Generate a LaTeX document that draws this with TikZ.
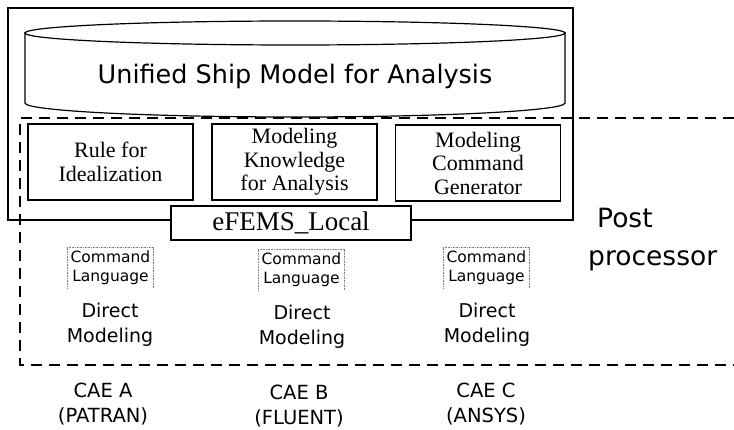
\documentclass[tikz,border=0pt]{standalone}
\usepackage{fontspec}
\setmainfont{Liberation Serif}
\setsansfont{DejaVu Sans}
\begin{document}
\begin{tikzpicture}[x=1pt,y=-1pt,
  modbox/.style={draw,line width=1.3pt,minimum width=165pt,minimum height=76pt,align=center,inner sep=0pt,font=\fontsize{22}{23.5}\selectfont},
  cmdbox/.style={minimum width=86pt,minimum height=40pt,align=center,inner sep=0pt,font=\sffamily\fontsize{15.5}{19}\selectfont},
  cmdline/.style={draw=gray,line width=0.6pt,densely dotted},
  sanstext/.style={align=center,inner sep=0pt,font=\sffamily\fontsize{19}{25}\selectfont},
  caetext/.style={sanstext,font=\sffamily\fontsize{19.5}{25}\selectfont},
  dashline/.style={line width=2.6pt,dash pattern=on 11pt off 7pt}]
  \useasboundingbox (0,0) rectangle (734,430);

  \draw[line width=2.5pt] (8,8) rectangle (573,220); % outer box

  % database cylinder
  \draw[line width=1.2pt] (25,32) -- (25,103) arc[start angle=180,end angle=0,x radius=270,y radius=14] -- (565,32);
  \draw[line width=1.2pt] (295,33) ellipse[x radius=270,y radius=12];
  \node[inner sep=0pt,font=\sffamily\fontsize{25.5}{28}\selectfont] (usm) at (295,76) {Unified Ship Model for Analysis};

  % post processor region
  \draw[dashline] (734,118) -- (20,118) -- (20,365) -- (734,365);

  \node[modbox] (rule) at (110.5,162) {Rule for\\Idealization};
  \node[modbox] (know) at (294.5,162) {Modeling\\Knowledge\\for Analysis};
  \node[modbox] (gen) at (478,163) {Modeling\\Command\\Generator};

  \node[draw,fill=white,line width=2.5pt,minimum width=240pt,minimum height=34pt,inner sep=0pt,font=\fontsize{27}{29}\selectfont] (local) at (291,223) {eFEMS\_Local};

  \node[cmdbox] (cmdA) at (110.5,268) {Command\\Language};
  \node[cmdbox] (cmdB) at (301.5,270) {Command\\Language};
  \node[cmdbox] (cmdC) at (486.5,268) {Command\\Language};
  \foreach \c in {cmdA,cmdB,cmdC}
    \draw[cmdline] (\c.south west) -- (\c.north west) -- (\c.north east) -- (\c.south east);

  \node[sanstext] (dirA) at (110,325) {Direct\\Modeling};
  \node[sanstext] (dirB) at (302,327) {Direct\\Modeling};
  \node[sanstext] (dirC) at (487,325) {Direct\\Modeling};

  \node[caetext] (caeA) at (103,404) {CAE A\\(PATRAN)};
  \node[caetext] (caeB) at (299,406) {CAE B\\(FLUENT)};
  \node[caetext] (caeC) at (486,404) {CAE C\\(ANSYS)};

  \node[anchor=west,align=left,inner sep=0pt,font=\sffamily\fontsize{26.5}{38}\selectfont] (post) at (588,240) {\hspace*{9pt}Post\\processor};
\end{tikzpicture}
\end{document}
